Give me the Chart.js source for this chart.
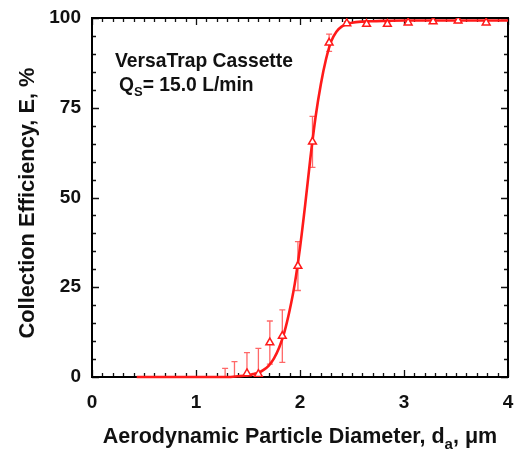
<!DOCTYPE html>
<html><head><meta charset="utf-8">
<script src="https://cdn.jsdelivr.net/npm/chart.js@4.4.1/dist/chart.umd.min.js"></script>
<style>html,body{margin:0;padding:0;background:#fff;}#wrap{width:520px;height:449px;position:relative;}</style>
</head><body><div id="wrap"><canvas id="c"></canvas></div>
<script>
// Fitted efficiency curve
const curveX = [0.43, 1.0, 1.3, 1.4, 1.5, 1.55, 1.6, 1.65, 1.7, 1.75, 1.8, 1.85, 1.9, 1.95, 2.0, 2.05, 2.1, 2.15, 2.2, 2.25, 2.3, 2.35, 2.4, 2.45, 2.5, 2.6, 2.7, 2.8, 3.0, 3.5, 4.0];
const curveY = [0, 0, 0, 0.2, 0.5, 0.8, 1.2, 2.0, 3.2, 5.2, 8.2, 12.5, 18.5, 26, 36, 48, 61, 72.5, 81.5, 88.5, 93.5, 96.2, 97.6, 98.3, 98.7, 99.0, 99.1, 99.2, 99.3, 99.3, 99.3];
// Measured points with error bars
const pointX = [1.28, 1.37, 1.49, 1.60, 1.71, 1.83, 1.98, 2.12, 2.28, 2.45, 2.64, 2.84, 3.04, 3.28, 3.52, 3.79];
const pointY = [0, 0, 1.0, 0.8, 9.6, 11.4, 30.9, 65.5, 93.1, 98.5, 98.3, 98.3, 98.7, 99.0, 99.2, 98.7];
const pointErr = [2.4, 4.3, 5.8, 7.2, 6.0, 7.3, 6.8, 7.1, 2.4, 0.5, 0.5, 0.5, 0.5, 0.5, 0.5, 0.5];
const xTicks = [0, 1, 2, 3, 4];
const yTicks = [0, 25, 50, 75, 100];
const annotationLine1 = 'VersaTrap Cassette';
const annotationLine2 = [{t:'Q'},{t:'S',sub:true},{t:'= 15.0 L/min'}];
const xTitle = [{t:'Aerodynamic Particle Diameter, d'},{t:'a',sub:true},{t:', \u03bcm'}];
const yTitle = [{t:'Collection Efficiency, E, %'}];

const RED = '#ff1a1a';
const FONT = '"Liberation Sans", Arial, sans-serif';

function drawRich(ctx, parts, x, y, size, align){
  const sub = Math.round(size*0.68);
  let w = 0;
  parts.forEach(p=>{ctx.font='bold '+(p.sub?sub:size)+'px '+FONT; p.w=ctx.measureText(p.t).width; w+=p.w;});
  let cx = align==='center' ? x - w/2 : x;
  ctx.textAlign='left'; ctx.textBaseline='alphabetic';
  parts.forEach(p=>{ctx.font='bold '+(p.sub?sub:size)+'px '+FONT; ctx.fillText(p.t, cx, y + (p.sub? size*0.28:0)); cx+=p.w;});
}

const deco = {
  id:'deco',
  beforeDatasetsDraw(chart){
    const ctx=chart.ctx, a=chart.chartArea, xs=chart.scales.x, ys=chart.scales.y;
    ctx.save();
    ctx.strokeStyle='#111'; ctx.lineWidth=1.3;
    ctx.beginPath();
    for(let i=0;i<=40;i++){
      const v=i/10, px=Math.round(xs.getPixelForValue(v))+0.5, L=(i%10===0)?7:4;
      ctx.moveTo(px,a.bottom); ctx.lineTo(px,a.bottom-L);
      ctx.moveTo(px,a.top); ctx.lineTo(px,a.top+L);
    }
    for(let i=0;i<=20;i++){
      const v=i*5, py=Math.round(ys.getPixelForValue(v))+0.5, L=(i%5===0)?7:4;
      ctx.moveTo(a.left,py); ctx.lineTo(a.left+L,py);
      ctx.moveTo(a.right,py); ctx.lineTo(a.right-L,py);
    }
    ctx.stroke();
    ctx.lineWidth=2; ctx.strokeStyle='#000';
    ctx.strokeRect(a.left,a.top,a.right-a.left,a.bottom-a.top);
    // error bars
    ctx.strokeStyle='rgba(255,40,40,0.7)'; ctx.lineWidth=1.3;
    ctx.beginPath();
    pointX.forEach((xv,i)=>{
      const px=xs.getPixelForValue(xv);
      const top=ys.getPixelForValue(Math.min(100,pointY[i]+pointErr[i]));
      const bot=ys.getPixelForValue(Math.max(0,pointY[i]-pointErr[i]));
      ctx.moveTo(px,top); ctx.lineTo(px,bot);
      ctx.moveTo(px-3,top); ctx.lineTo(px+3,top);
      if(pointY[i]-pointErr[i]>0){ctx.moveTo(px-3,bot); ctx.lineTo(px+3,bot);}
    });
    ctx.stroke();
    ctx.restore();
  },
  afterDraw(chart){
    const ctx=chart.ctx, a=chart.chartArea;
    ctx.save();
    ctx.fillStyle='#111';
    drawRich(ctx,[{t:annotationLine1}],115,67,19.3,'left');
    drawRich(ctx,annotationLine2,119,91,19.3,'left');
    drawRich(ctx,xTitle,(a.left+a.right)/2,443,21.5,'center');
    ctx.translate(34,203); ctx.rotate(-Math.PI/2);
    drawRich(ctx,yTitle,0,0,21.8,'center');
    ctx.restore();
  }
};

new Chart(document.getElementById('c'),{
  type:'scatter',
  data:{datasets:[
    {label:'Measured', data:pointX.map((x,i)=>({x:x,y:pointY[i]})),
     pointStyle:'triangle', pointRadius:(c)=>pointY[c.dataIndex]<=0?0:4.5, pointBorderWidth:1.5,
     borderColor:RED, backgroundColor:'#fff', showLine:false},
    {label:'Fit', data:curveX.map((x,i)=>({x:x,y:curveY[i]})),
     showLine:true, pointRadius:0, borderColor:RED, borderWidth:2.6, tension:0.35, cubicInterpolationMode:'monotone', clip:false, fill:false}
  ]},
  options:{
    responsive:true, maintainAspectRatio:false, animation:false,
    layout:{padding:{left:0,top:18,right:12,bottom:0}},
    plugins:{legend:{display:false},tooltip:{enabled:false}},
    scales:{
      x:{type:'linear',min:0,max:4,
         afterBuildTicks:(s)=>{s.ticks=xTicks.map(v=>({value:v}));},
         afterFit:(s)=>{s.height=72;s.paddingLeft=0;s.paddingRight=0;},
         grid:{display:false,drawTicks:false}, border:{display:false},
         ticks:{padding:14,color:'#111',font:{family:FONT,size:19,weight:'bold'}}},
      y:{type:'linear',min:0,max:100,
         afterBuildTicks:(s)=>{s.ticks=yTicks.map(v=>({value:v}));},
         afterFit:(s)=>{s.width=92;s.paddingTop=0;s.paddingBottom=0;},
         grid:{display:false,drawTicks:false}, border:{display:false},
         ticks:{padding:11,color:'#111',font:{family:FONT,size:19,weight:'bold'}}}
    }
  },
  plugins:[deco]
});
</script></body></html>
